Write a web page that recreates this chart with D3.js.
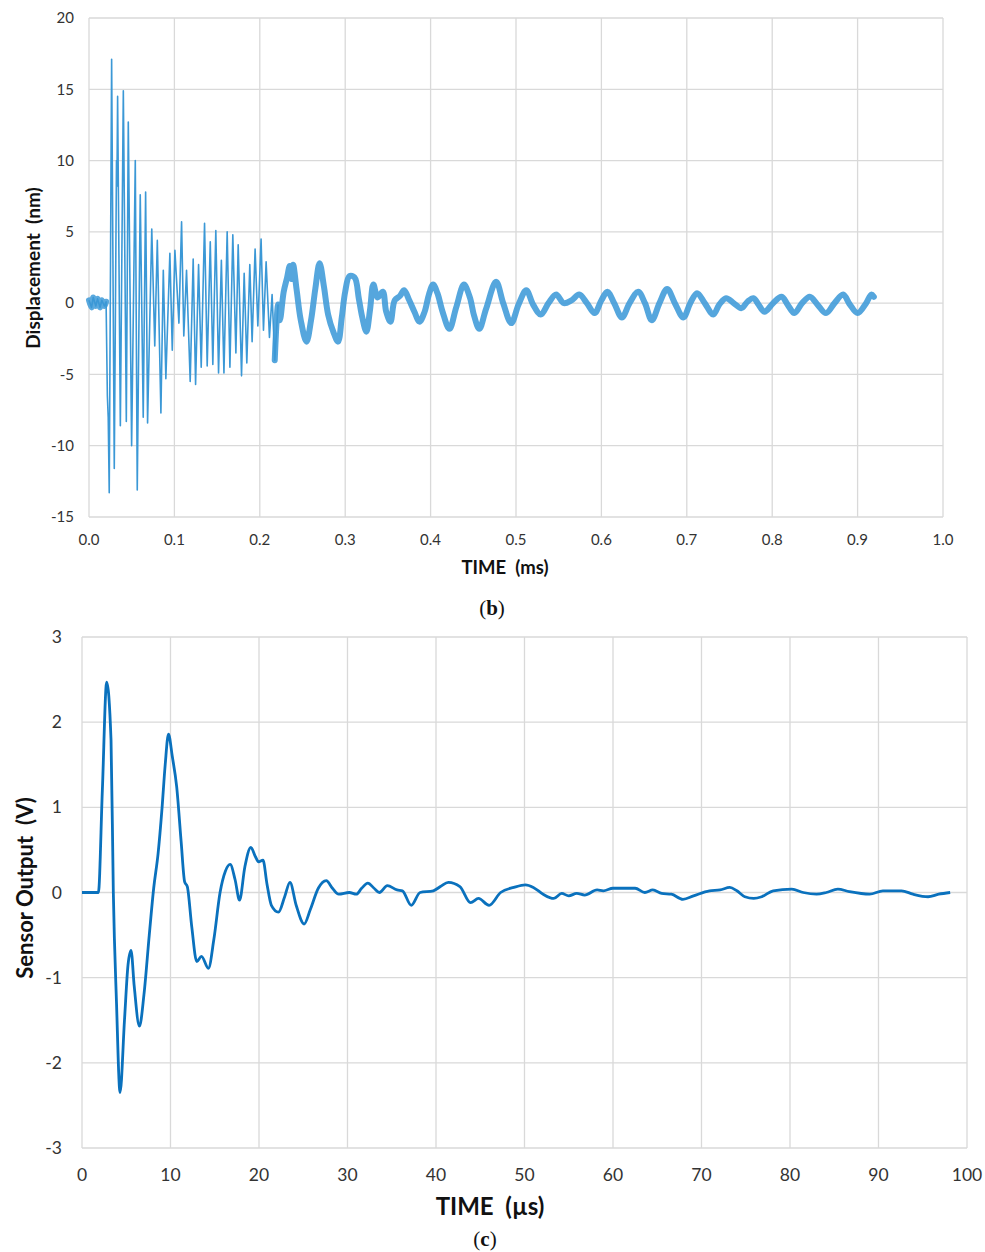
<!DOCTYPE html>
<html><head><meta charset="utf-8">
<script src="https://cdn.jsdelivr.net/npm/d3@7"></script>
<style>body{margin:0;background:#fff}svg{display:block}text{font-family:Lato,"Open Sans",sans-serif}text.cap{font-family:"Liberation Serif","DejaVu Serif",serif}</style>
</head><body><svg id="c" width="985" height="1252"></svg>
<script>
// ---- Panel (b): displacement vs time (ms) ----
const timeB = [0.000,0.003,0.005,0.008,0.010,0.013,0.015,0.018,0.020,0.0215,0.0225,0.0237,0.0265,0.0296,0.0322,0.0327,0.0335,0.0367,0.0402,0.0437,0.046,0.0499,0.0542,0.0565,0.060,0.0635,0.0663,0.0686,0.0735,0.077,0.080,0.0842,0.087,0.090,0.0947,0.0975,0.1006,0.1053,0.1084,0.111,0.1142,0.1185,0.122,0.1248,0.1283,0.1314,0.1353,0.1384,0.142,0.145,0.1485,0.1517,0.155,0.158,0.1618,0.165,0.1684,0.172,0.1747,0.1786,0.1817,0.1848,0.1883,0.191,0.1945,0.1977,0.2015,0.2043,0.2074,0.2113,0.2144,0.2175,0.2214,0.2235,0.228,0.232,0.235,0.237,0.239,0.243,0.248,0.2546,0.260,0.265,0.270,0.275,0.280,0.286,0.2916,0.296,0.300,0.305,0.311,0.316,0.320,0.3248,0.329,0.333,0.338,0.344,0.348,0.353,0.358,0.364,0.369,0.375,0.381,0.387,0.393,0.398,0.403,0.408,0.414,0.422,0.430,0.439,0.446,0.451,0.457,0.465,0.4767,0.485,0.4944,0.503,0.512,0.520,0.529,0.538,0.547,0.556,0.565,0.574,0.583,0.592,0.600,0.607,0.615,0.624,0.633,0.643,0.651,0.659,0.668,0.677,0.686,0.696,0.704,0.712,0.721,0.731,0.738,0.746,0.755,0.764,0.771,0.778,0.784,0.791,0.801,0.811,0.818,0.826,0.835,0.844,0.853,0.863,0.873,0.883,0.891,0.900,0.910,0.916,0.919];
const dispB = [0.2,-0.3,0.4,-0.2,0.3,-0.3,0.2,-0.2,0.1,-6.5,-8.0,-13.3,17.1,-11.6,10.0,8.2,14.5,-8.6,14.9,-8.3,12.7,-10.0,10.0,-13.1,7.6,-8.0,7.8,-8.4,5.2,-3.0,4.4,-7.7,2.3,-5.3,3.5,-3.3,3.7,-1.4,5.7,-2.3,2.3,-5.5,3.1,-5.7,2.7,-4.5,5.6,-4.4,4.3,-4.3,5.1,-4.9,3.0,-4.9,5.0,-4.5,4.8,-3.5,4.1,-5.1,2.1,-4.2,2.7,-2.7,3.8,-1.6,4.5,-1.9,2.9,-2.4,0.6,-4.0,-0.1,-1.2,0.8,1.8,2.6,1.7,2.7,1.0,-1.2,-2.7,-1.2,1.0,2.8,1.2,-0.8,-2.0,-2.7,-1.0,0.8,1.9,1.8,0.3,-1.0,-2.0,-0.5,1.3,0.4,0.8,-0.6,-1.3,0.2,0.5,0.9,0.2,-0.6,-1.3,-0.6,0.6,1.3,0.7,-0.6,-1.8,-0.3,1.3,0.4,-0.9,-1.8,-0.4,1.5,0.0,-1.4,-0.1,0.9,-0.1,-0.8,0.0,0.6,0.0,0.2,0.6,0.0,-0.7,0.2,0.8,0.0,-1.0,0.0,0.8,0.0,-1.2,0.0,1.0,0.0,-1.0,0.0,0.7,0.0,-0.8,-0.1,0.35,0.0,-0.35,0.1,0.35,-0.1,-0.6,0.0,0.45,-0.1,-0.7,0.0,0.45,-0.1,-0.7,0.0,0.6,-0.1,-0.7,0.0,0.6,0.45];
const xTicksB = [0,0.1,0.2,0.3,0.4,0.5,0.6,0.7,0.8,0.9,1.0];
const yTicksB = [-15,-10,-5,0,5,10,15,20];

// ---- Panel (c): sensor output vs time (µs) ----
const timeC = [0,1.85,2.3,2.79,3.28,3.54,3.9,4.3,4.8,5.2,5.54,5.9,6.49,7.0,7.6,8.1,8.6,9.05,9.4,9.77,10.2,10.7,11.2,11.6,11.9,12.4,12.97,13.5,14.28,14.9,15.6,16.2,16.74,17.3,17.8,18.4,19.08,19.6,19.95,20.45,20.9,21.4,22.2,22.9,23.5,24.2,25.1,25.8,26.7,27.6,28.3,29.0,30.2,31.0,31.6,32.3,33.0,33.6,34.5,35.6,36.2,37.2,38.2,39.7,40.5,41.4,42.7,43.9,44.8,46.0,47.3,48.8,50.1,51.0,52.1,53.3,54.2,55.0,55.9,56.8,58.2,58.9,60.0,62.5,63.6,64.5,65.5,66.6,67.9,69.1,70.9,72.1,73.2,74.0,74.9,75.9,76.8,78.1,80.2,81.5,83.0,84.1,85.4,86.7,89.0,90.5,92.6,93.9,95.6,96.8,98.1];
const voltC = [0,0,1.2,2.47,1.79,0,-1.3,-2.35,-1.5,-0.85,-0.68,-1.1,-1.57,-1.2,-0.5,0.05,0.46,1.0,1.5,1.86,1.6,1.24,0.6,0.125,0.07,-0.4,-0.81,-0.75,-0.89,-0.55,0,0.25,0.33,0.15,-0.09,0.3,0.53,0.42,0.36,0.38,0.1,-0.15,-0.23,-0.05,0.12,-0.15,-0.37,-0.2,0.05,0.14,0.05,-0.02,0.0,-0.02,0.05,0.11,0.05,0.0,0.08,0.03,0.02,-0.15,0.0,0.02,0.07,0.12,0.07,-0.12,-0.07,-0.15,0.0,0.06,0.09,0.06,-0.02,-0.07,-0.01,-0.04,-0.01,-0.03,0.03,0.02,0.05,0.05,0.0,0.03,-0.01,-0.02,-0.08,-0.04,0.02,0.03,0.06,0.02,-0.05,-0.07,-0.05,0.02,0.04,0.0,-0.02,0.0,0.04,0.01,-0.02,0.02,0.02,-0.02,-0.05,-0.02,0.0];
const xTicksC = [0,10,20,30,40,50,60,70,80,90,100];
const yTicksC = [-3,-2,-1,0,1,2,3];

const svg = d3.select("#c");
const grid = "#d9d9d9";

function panel(o){
  const g = svg.append("g");
  const x = d3.scaleLinear().domain(o.xd).range([o.l, o.r]);
  const y = d3.scaleLinear().domain(o.yd).range([o.b, o.t]);
  g.append("g").selectAll("line").data(o.xt).join("line")
    .attr("x1",d=>x(d)).attr("x2",d=>x(d)).attr("y1",o.t).attr("y2",o.b)
    .attr("stroke",grid).attr("stroke-width",1.3);
  g.append("g").selectAll("line").data(o.yt).join("line")
    .attr("y1",d=>y(d)).attr("y2",d=>y(d)).attr("x1",o.l).attr("x2",o.r)
    .attr("stroke",grid).attr("stroke-width",1.3);
  g.append("g").selectAll("text").data(o.xt).join("text")
    .attr("x",d=>x(d)).attr("y",o.b + o.xlOff).attr("text-anchor","middle")
    .attr("font-size",o.fs).attr("fill","#333").text(o.xf);
  g.append("g").selectAll("text").data(o.yt).join("text")
    .attr("x",o.l - o.ylOff).attr("y",d=>y(d)).attr("dy","0.35em").attr("text-anchor","end")
    .attr("font-size",o.fs).attr("fill","#333").text(d=>d);
  return {g,x,y};
}

// Panel b
const pb = panel({xd:[0,1], yd:[-15,20], l:89, r:943, t:18, b:517, xt:xTicksB, yt:yTicksB,
  fs:15, xlOff:28, ylOff:15, xf:d=>d.toFixed(1)});
const ptsB = timeB.map((t,i)=>[t,dispB[i]]);
const lineB = d3.line().x(d=>pb.x(d[0])).y(d=>pb.y(d[1]));
const lineBs = d3.line().x(d=>pb.x(d[0])).y(d=>pb.y(d[1])).curve(d3.curveCatmullRom.alpha(0.5));
const early = ptsB.filter(d=>d[0]<=0.2214);
const late = ptsB.filter(d=>d[0]>=0.2175);
// noisy band where the signal is small
pb.g.append("path").datum(ptsB.filter(d=>d[0]<=0.0205))
  .attr("d",lineBs).attr("fill","none").attr("stroke","#3d9ad8").attr("stroke-width",6).attr("opacity",0.85).attr("stroke-linecap","round");
pb.g.append("path").datum(late)
  .attr("d",lineBs).attr("fill","none").attr("stroke","#3d9ad8").attr("stroke-width",6).attr("opacity",0.88).attr("stroke-linejoin","round").attr("stroke-linecap","round");
pb.g.append("path").datum(early)
  .attr("d",lineB).attr("fill","none").attr("stroke","#3b98d6").attr("stroke-width",1.6).attr("stroke-linejoin","round");
svg.append("text").attr("x",505).attr("y",574).attr("text-anchor","middle")
  .attr("font-size",18.5).attr("font-weight","bold").attr("fill","#111").attr("xml:space","preserve").text("TIME  (ms)");
svg.append("text").attr("transform","translate(40,268) rotate(-90)").attr("text-anchor","middle")
  .attr("font-size",19).attr("font-weight","bold").attr("fill","#111").attr("xml:space","preserve").text("Displacement  (nm)");
svg.append("text").attr("class","cap").attr("x",492).attr("y",615).attr("text-anchor","middle")
  .attr("font-size",21).attr("fill","#111")
  .html('(<tspan font-weight="bold">b</tspan>)');

// Panel c
const pc = panel({xd:[0,100], yd:[-3,3], l:82, r:967, t:637, b:1148, xt:xTicksC, yt:yTicksC,
  fs:17.5, xlOff:33, ylOff:20, xf:d=>d});
const ptsC = timeC.map((t,i)=>[t,voltC[i]]);
pc.g.append("path").datum(ptsC)
  .attr("d",d3.line().x(d=>pc.x(d[0])).y(d=>pc.y(d[1])).curve(d3.curveMonotoneX))
  .attr("fill","none").attr("stroke","#0a71bd").attr("stroke-width",2.8).attr("stroke-linejoin","round");
svg.append("text").attr("x",490).attr("y",1215).attr("text-anchor","middle")
  .attr("font-size",24).attr("font-weight","bold").attr("fill","#111").attr("xml:space","preserve").text("TIME  (µs)");
svg.append("text").attr("transform","translate(33,888) rotate(-90)").attr("text-anchor","middle")
  .attr("font-size",22).attr("font-weight","bold").attr("fill","#111").attr("xml:space","preserve").text("Sensor Output  (V)");
svg.append("text").attr("class","cap").attr("x",485).attr("y",1246).attr("text-anchor","middle")
  .attr("font-size",21).attr("fill","#111")
  .html('(<tspan font-weight="bold">c</tspan>)');
</script></body></html>
